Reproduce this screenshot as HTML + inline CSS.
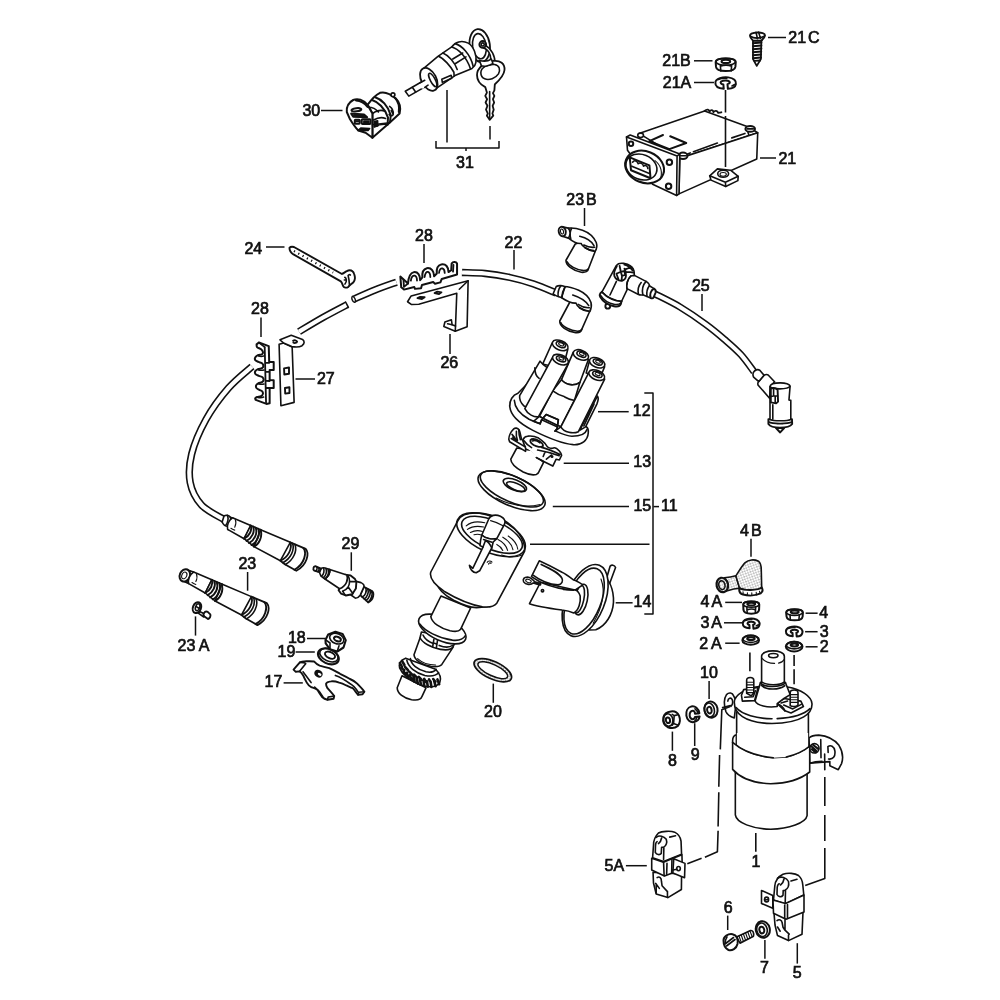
<!DOCTYPE html>
<html><head><meta charset="utf-8">
<style>
html,body{margin:0;padding:0;background:#fff;}
svg{display:block;}
text{font-family:"Liberation Sans",sans-serif;font-size:16px;fill:#111;stroke:#111;stroke-width:.7px;text-anchor:middle;}
.l{stroke:#111;stroke-width:1.6;fill:none;stroke-linecap:round;stroke-linejoin:round;}
.w{stroke:#111;stroke-width:1.6;fill:#fff;stroke-linecap:round;stroke-linejoin:round;}
.t{stroke:#111;stroke-width:1.1;fill:none;stroke-linecap:round;stroke-linejoin:round;}
.k{stroke:#111;stroke-width:1.6;fill:#111;stroke-linejoin:round;}
.d{stroke:#111;stroke-width:1.6;fill:none;}
path,ellipse,circle,rect,line,polygon,polyline{vector-effect:non-scaling-stroke;}
</style></head><body>
<svg width="1000" height="1000" viewBox="0 0 1000 1000">
<rect width="1000" height="1000" fill="#fff"/>
<!-- LABELS -->
<g id="labels" style="filter:grayscale(1)">
<text x="311.3" y="115.5">30</text>
<text x="465" y="167.5">31</text>
<text x="804" y="42.5">21<tspan dx="2">C</tspan></text>
<text x="676.5" y="65.5">21B</text>
<text x="677" y="87.5">21A</text>
<text x="787.3" y="164">21</text>
<text x="253.3" y="254">24</text>
<text x="424" y="240.5">28</text>
<text x="449.3" y="368">26</text>
<text x="260" y="314">28</text>
<text x="325.8" y="384">27</text>
<text x="581.5" y="205">23<tspan dx="2">B</tspan></text>
<text x="513.5" y="247.5">22</text>
<text x="700.8" y="291">25</text>
<text x="641.7" y="415.5">12</text>
<text x="642.2" y="467">13</text>
<text x="642.3" y="511">15</text>
<text x="669.4" y="511">11</text>
<text x="642.5" y="606.7">14</text>
<text x="350.5" y="549">29</text>
<text x="247.3" y="569">23</text>
<text x="193.5" y="651">23<tspan dx="3.5">A</tspan></text>
<text x="296.8" y="643">18</text>
<text x="286.5" y="657">19</text>
<text x="273.4" y="687">17</text>
<text x="493" y="716.7">20</text>
<text x="750.8" y="536.4">4<tspan dx="2">B</tspan></text>
<text x="711.4" y="607.2">4<tspan dx="2">A</tspan></text>
<text x="711.2" y="628">3<tspan dx="2">A</tspan></text>
<text x="710.5" y="648.7">2<tspan dx="3">A</tspan></text>
<text x="823.6" y="618">4</text>
<text x="824.2" y="636.5">3</text>
<text x="824.2" y="651.6">2</text>
<text x="709" y="678">10</text>
<text x="672.4" y="765.7">8</text>
<text x="695.2" y="760.4">9</text>
<text x="756" y="866.7">1</text>
<text x="614.4" y="870.5">5A</text>
<text x="728.2" y="912.7">6</text>
<text x="764.4" y="972.7">7</text>
<text x="797.2" y="978">5</text>
</g>
<!-- LEADERS -->
<g id="leaders" class="l" style="stroke-width:1.5;stroke-linecap:butt">
<path d="M321 110.5H342.5"/>
<path d="M447 90V142.5M436 141V148H499V141M466 148V151"/>
<path d="M490 126V139.5" stroke-dasharray="14 6"/>
<path d="M768 37.5H786"/>
<path d="M694 60.8H712.5"/>
<path d="M694 82.5H714"/>
<path d="M760 158H776"/>
<path d="M266 247H284.5"/>
<path d="M424 244V263"/>
<path d="M450 334V354"/>
<path d="M261 317.5V337"/>
<path d="M295.5 379H315"/>
<path d="M584.5 208V226"/>
<path d="M514 250V269.5"/>
<path d="M702 294V311"/>
<path d="M598 411.7H628.7"/>
<path d="M563.7 463.2H629"/>
<path d="M552.8 506.6H629"/>
<path d="M653.4 506.6H659"/>
<path d="M644.3 393H653V614H644.3"/>
<path d="M530 544.3H649.5"/>
<path d="M615.7 602.8H632.6"/>
<path d="M351.3 552.3V570.8"/>
<path d="M247.6 572V590.7"/>
<path d="M195.5 616.4V635.6"/>
<path d="M307 638.5H325.6"/>
<path d="M295.6 652H314.8"/>
<path d="M283.6 682.9H302.8"/>
<path d="M493.3 683.6V702.8"/>
<path d="M751 538.8V556.8"/>
<path d="M725.2 602.4H742"/>
<path d="M724 622.8H742"/>
<path d="M725.2 643.2H739.6"/>
<path d="M805.6 613.2H817.6"/>
<path d="M805.1 631.7H817.6"/>
<path d="M805.6 646.8H817.6"/>
<path d="M709.1 680.9V699.1"/>
<path d="M672.4 731.6V750.8"/>
<path d="M694.7 723.2V746"/>
<path d="M625.9 865.7H646.8"/>
<path d="M727.7 915.6V930"/>
<path d="M764.9 940V958.8"/>
<path d="M797.3 943.2V963.6"/>
</g>
<!-- 05_cable22.svg -->
<g id="p22cable">
<path d="M252.0,366.5 C248.1,370.1 236.2,379.2 228.5,388.0 C220.8,396.8 212.1,408.5 206.0,419.5 C199.9,430.5 194.3,443.5 191.7,454.0 C189.1,464.5 188.6,474.0 190.2,482.5 C191.8,491.0 195.9,498.8 201.5,505.0 C207.1,511.2 220.2,517.1 224.0,519.5" fill="none" stroke="#111" stroke-width="7.4" stroke-linecap="butt"/>
<path d="M299.0,331.7 C303.0,329.3 315.0,322.0 323.0,317.5 C331.0,313.0 343.0,306.8 347.0,304.7" fill="none" stroke="#111" stroke-width="7.4" stroke-linecap="butt"/>
<path d="M353.0,299.5 C356.7,297.9 367.8,292.9 375.0,290.0 C382.2,287.1 392.9,283.5 396.5,282.2" fill="none" stroke="#111" stroke-width="7.4" stroke-linecap="butt"/>
<path d="M462.0,272.5 C465.8,272.7 477.0,272.7 485.0,273.5 C493.0,274.3 501.9,275.8 510.0,277.5 C518.1,279.2 526.0,281.4 533.7,284.0 C541.4,286.6 552.3,291.5 556.0,293.0" fill="none" stroke="#111" stroke-width="7.4" stroke-linecap="butt"/>
<path d="M252.0,366.5 C248.1,370.1 236.2,379.2 228.5,388.0 C220.8,396.8 212.1,408.5 206.0,419.5 C199.9,430.5 194.3,443.5 191.7,454.0 C189.1,464.5 188.6,474.0 190.2,482.5 C191.8,491.0 195.9,498.8 201.5,505.0 C207.1,511.2 220.2,517.1 224.0,519.5" fill="none" stroke="#fff" stroke-width="4.2" stroke-linecap="butt"/>
<path d="M299.0,331.7 C303.0,329.3 315.0,322.0 323.0,317.5 C331.0,313.0 343.0,306.8 347.0,304.7" fill="none" stroke="#fff" stroke-width="4.2" stroke-linecap="butt"/>
<path d="M353.0,299.5 C356.7,297.9 367.8,292.9 375.0,290.0 C382.2,287.1 392.9,283.5 396.5,282.2" fill="none" stroke="#fff" stroke-width="4.2" stroke-linecap="butt"/>
<path d="M462.0,272.5 C465.8,272.7 477.0,272.7 485.0,273.5 C493.0,274.3 501.9,275.8 510.0,277.5 C518.1,279.2 526.0,281.4 533.7,284.0 C541.4,286.6 552.3,291.5 556.0,293.0" fill="none" stroke="#fff" stroke-width="4.2" stroke-linecap="butt"/>
<path class="l" d="M345.6,302 L348.4,307.4"/>
<ellipse class="w" cx="353.6" cy="299.3" rx="1.5" ry="3" transform="rotate(-23 353.6 299.3)" style="stroke-width:1.4"/>
</g>

<!-- 06_cable25.svg -->
<g id="p25cable">
<path d="M652.5,292.5 C652.8,292.7 649.9,291.3 654.5,293.7 C659.1,296.1 671.5,301.9 680.0,307.0 C688.5,312.1 698.4,318.9 705.8,324.4 C713.2,329.8 718.6,334.4 724.5,339.5 C730.4,344.6 736.0,349.3 740.9,354.7 C745.8,360.1 751.8,368.9 754.0,371.7" fill="none" stroke="#111" stroke-width="7.2" stroke-linecap="butt"/>
<path d="M652.5,292.5 C652.8,292.7 649.9,291.3 654.5,293.7 C659.1,296.1 671.5,301.9 680.0,307.0 C688.5,312.1 698.4,318.9 705.8,324.4 C713.2,329.8 718.6,334.4 724.5,339.5 C730.4,344.6 736.0,349.3 740.9,354.7 C745.8,360.1 751.8,368.9 754.0,371.7" fill="none" stroke="#fff" stroke-width="4" stroke-linecap="butt"/>
</g>

<!-- 10_shaft.svg -->
<g id="pshaft" transform="translate(390,590) scale(0.12)">
<!-- bottom stub -->
<path class="w" d="M100,715 L60,815 C60,860 110,900 180,914 C230,922 258,910 265,890 L300,815 Z"/>
<!-- gear -->
<path class="w" d="M130,568 C90,580 70,620 80,650 C100,700 160,750 250,790 C320,815 390,815 415,770 C435,720 400,680 380,660 Z"/>
<g class="l" style="stroke-width:2.6">
<path d="M82,610 L100,640 M92,650 L118,668 M112,680 L132,700 M140,690 L150,730 M165,710 L180,748 M195,722 L205,765 M222,735 L232,778 M250,745 L258,790 M280,755 L285,798 M308,760 L315,805 M338,762 L345,808 M368,758 L380,802 M395,745 L410,785 M100,590 L120,625 M125,640 L150,668 M160,680 L185,705 M200,705 L225,730 M240,725 L262,748 M285,740 L300,765 M325,745 L340,770 M360,742 L378,765"/>
</g>
<path class="l" d="M170,572 C175,620 230,665 300,682 C340,690 370,680 385,662 M140,585 C150,640 210,690 290,712 C340,722 385,712 405,690"/>
<!-- lower taper shaft -->
<path class="w" d="M250,400 L200,540 C205,585 270,625 340,636 C390,642 420,635 432,620 L525,478 Z"/>
<path class="t" d="M230,572 C270,610 330,625 380,625"/>
<!-- collar under flange -->
<path class="w" d="M262,350 L250,398 C270,440 340,480 420,495 C480,505 515,495 527,470 L560,400 Z"/>
<path class="l" d="M275,375 C290,410 330,435 362,446 M410,462 C450,478 495,480 522,462"/>
<path class="l" d="M366,410 L356,470 M396,420 L386,482 M360,440 L392,452"/>
<!-- flange ring -->
<ellipse class="w" cx="436" cy="325" rx="212" ry="98" transform="rotate(24 436 325)"/>
<path class="l" d="M250,285 C290,340 400,400 520,418 C570,424 610,410 628,380"/>
<!-- upper shaft -->
<path class="w" d="M425,50 L340,222 C350,275 420,320 500,340 C550,350 575,345 587,330 L672,150 Z"/>
</g>

<!-- 11_body.svg -->
<g id="p11" transform="translate(420,500) scale(0.12)">
<!-- shaft below (drawn first) placeholder in separate file -->
<!-- collar under body -->
<path class="w" d="M140,690 C150,740 200,790 280,835 C350,870 420,895 470,897 L560,890 L200,640 Z"/>
<!-- body -->
<path class="w" d="M316,172 L90,600 C78,640 100,690 200,760 C300,820 420,872 520,890 C580,897 620,885 640,860 L872,425 C880,330 800,230 700,170 C560,95 360,80 316,172 Z"/>
<ellipse class="l" cx="592" cy="290" rx="306" ry="146" transform="rotate(24 592 290)"/>
<ellipse class="l" cx="600" cy="290" rx="272" ry="118" transform="rotate(24 600 290)"/>
<path class="t" d="M680,458 C740,480 800,480 850,458"/>
<!-- inner arcs -->
<path class="t" d="M385,215 C420,185 480,175 540,190 M395,245 C430,220 480,215 530,225 M420,270 C450,255 490,252 520,262 M450,290 C470,283 495,285 510,292"/>
<path class="t" d="M650,330 C690,350 720,385 730,420 M690,310 C735,335 765,375 775,415 M735,300 C780,330 810,370 815,410 M640,370 C660,380 680,400 690,420"/>
<!-- rotor shaft -->
<path class="w" d="M572,160 C585,125 630,118 670,135 C700,150 715,175 705,200 L640,322 C600,330 540,320 515,292 Z"/>
<path class="t" d="M588,172 C620,180 660,195 692,215"/>
<!-- clip -->
<path class="w" d="M515,292 L505,335 L500,380 L525,392 L440,570 L412,545 C415,575 440,605 468,606 L497,590 L598,400 L610,350 L640,322 C600,330 540,320 515,292 Z"/>
<path class="l" d="M530,330 L600,352 M525,392 L545,340 M598,400 C585,370 560,345 545,340"/>
<path class="t" d="M560,520 C565,505 590,505 600,518 M572,535 C570,525 585,520 592,528"/>
</g>

<!-- 12_cap.svg -->
<g id="p12" transform="translate(490,330) scale(0.13)">
<!-- flange -->
<path class="w" d="M215,487 C175,500 148,540 152,590 C160,665 230,722 330,772 C420,817 540,872 640,882 C705,886 752,850 756,790 C758,770 752,752 742,745 L700,600 L300,400 Z"/>
<path class="l" d="M187,540 C190,605 240,652 300,686 L335,702 M505,778 C560,803 600,817 630,817 C690,817 735,800 746,765"/>
<!-- right clip -->
<path class="w" d="M826,508 C838,520 832,545 822,570 L735,745 L690,772 Z"/>
<path class="l" d="M800,570 L722,738"/>
<!-- tower 1 back-left -->
<path class="w" d="M478,100 L405,262 L560,300 L598,150 Z"/>
<ellipse class="w" cx="540" cy="118" rx="64" ry="36" transform="rotate(22 540 118)"/>
<ellipse class="l" cx="545" cy="112" rx="38" ry="20" transform="rotate(22 545 112)"/>
<ellipse class="t" cx="547" cy="110" rx="20" ry="10" transform="rotate(22 547 110)"/>
<!-- cone body left -->
<path class="w" d="M385,240 L405,262 L440,290 L300,600 L262,585 C235,560 225,530 228,505 Z"/>
<path class="l" d="M345,290 C345,330 360,360 378,372"/>
<!-- tower 4 back-right -->
<path class="w" d="M765,238 L740,330 L850,360 L882,282 Z"/>
<ellipse class="w" cx="824" cy="252" rx="62" ry="36" transform="rotate(22 824 252)"/>
<ellipse class="l" cx="829" cy="246" rx="37" ry="20" transform="rotate(22 829 246)"/>
<ellipse class="t" cx="831" cy="244" rx="19" ry="10" transform="rotate(22 831 244)"/>
<!-- tower 3 centre -->
<path class="w" d="M640,172 L550,382 C580,425 650,435 692,402 L757,228 Z"/>
<ellipse class="w" cx="699" cy="192" rx="62" ry="36" transform="rotate(22 699 192)"/>
<ellipse class="l" cx="704" cy="186" rx="37" ry="20" transform="rotate(22 704 186)"/>
<ellipse class="t" cx="706" cy="184" rx="19" ry="10" transform="rotate(22 706 184)"/>
<!-- central body -->
<path class="w" d="M550,382 L480,470 L380,665 L545,745 L650,540 L692,402 C650,435 580,425 550,382 Z"/>
<path class="l" d="M486,470 C520,495 545,505 570,512 M575,515 C600,530 625,537 650,542"/>
<!-- notch -->
<path class="w" d="M335,702 L385,722 L397,690 L432,650 L526,690 L516,760 L500,778 L545,745 L380,665 Z"/>
<path class="l" d="M335,702 L385,722 L397,690 L432,650 L526,690 L516,760 L500,778 M397,690 L516,745"/>
<!-- tower 2 front-left -->
<path class="w" d="M480,212 L268,605 C290,650 340,672 372,668 L602,258 Z"/>
<ellipse class="w" cx="542" cy="228" rx="64" ry="36" transform="rotate(22 542 228)"/>
<ellipse class="l" cx="547" cy="222" rx="38" ry="20" transform="rotate(22 547 222)"/>
<ellipse class="t" cx="549" cy="220" rx="20" ry="10" transform="rotate(22 549 220)"/>
<!-- tower 5 front-right -->
<path class="w" d="M760,328 L545,745 C570,790 640,800 680,782 L882,378 Z"/>
<ellipse class="w" cx="821" cy="347" rx="64" ry="36" transform="rotate(22 821 347)"/>
<ellipse class="l" cx="826" cy="341" rx="38" ry="20" transform="rotate(22 826 341)"/>
<ellipse class="t" cx="828" cy="339" rx="20" ry="10" transform="rotate(22 828 339)"/>
</g>

<!-- 13_rotor.svg -->
<g id="p13" transform="translate(500,420) scale(0.08)">
<!-- cylinder -->
<path class="w" d="M210,350 L135,490 C135,540 200,600 290,650 C350,680 420,690 455,680 C475,670 485,655 490,640 L545,530 L400,380 Z"/>
<!-- back tab -->
<path class="w" d="M110,240 C110,200 140,140 172,110 C190,95 220,98 240,125 C255,160 258,200 270,240 L320,300 L320,392 L120,272 Z"/>
<path class="l" d="M150,180 C170,200 190,230 200,255 M205,140 C200,180 205,220 218,255 M235,125 C235,170 242,210 255,245 M140,232 L330,345 M160,215 L175,240 M185,225 L200,250"/>
<!-- main plate -->
<path fill="#fff" stroke="none" d="M290,242 C300,220 320,205 345,202 C390,195 440,205 482,226 C520,250 545,275 562,292 C580,320 590,335 602,342 C625,355 650,358 668,350 C690,340 720,365 742,388 C760,410 770,425 770,442 L742,500 L702,490 L660,576 L540,516 L455,470 L400,400 L320,340 Z"/>
<path class="l" d="M318,338 C300,310 285,270 290,242 C300,220 320,205 345,202 C390,195 440,205 482,226 C520,250 545,275 562,292 C580,320 590,335 602,342 C625,355 650,358 668,350 C690,340 720,365 742,388 C760,410 770,425 770,442 L742,500 L702,490 L660,576 L540,516 L455,470"/>
<path class="l" style="stroke-width:1.8" d="M380,252 C395,235 440,235 490,262 C525,285 545,310 535,328 C515,345 460,335 420,312 C390,292 375,270 380,252 Z"/>
<path class="l" d="M405,262 C430,250 470,262 500,285 M470,376 C520,385 600,400 740,446 M520,342 C570,355 650,385 752,430 M562,402 L540,456 M642,440 L580,490 M300,260 C320,290 350,320 395,345 M455,470 L545,518"/>
<circle class="k" cx="650" cy="455" r="9"/>
</g>

<!-- 14_vac.svg -->
<g id="p14" transform="translate(510,540) scale(0.13)">
<!-- pipe -->
<path class="w" d="M738,312 L770,202 C778,188 805,192 812,212 L765,338 Z"/>
<!-- back dome -->
<path class="w" d="M700,250 C760,300 800,380 796,480 C790,570 740,660 660,690 L610,692 Z"/>
<!-- disc -->
<ellipse class="w" cx="578" cy="465" rx="292" ry="150" transform="rotate(-68 578 465)"/>
<ellipse class="l" cx="570" cy="470" rx="268" ry="128" transform="rotate(-68 570 470)"/>
<path class="t" d="M700,300 C730,380 720,500 640,640"/>
<!-- hub -->
<ellipse class="w" cx="545" cy="458" rx="50" ry="120" transform="rotate(12 545 458)"/>
<ellipse class="l" cx="530" cy="455" rx="38" ry="108" transform="rotate(12 530 455)"/>
<!-- upper arm -->
<path class="w" d="M225,160 L165,282 L235,325 L500,385 L560,345 C530,325 500,310 490,308 C460,285 420,255 400,248 C340,215 280,185 225,160 Z"/>
<path class="l" d="M180,272 C230,310 300,340 370,345 C400,340 410,315 400,295 C380,255 320,225 240,188"/>
<!-- lower arm -->
<path class="w" d="M235,325 L150,490 C200,510 300,525 400,538 C440,542 470,552 490,562 C530,540 545,480 540,430 C530,400 515,388 500,385 C440,385 330,365 235,325 Z"/>
<path class="l" d="M410,380 L490,386"/>
<circle class="l" cx="250" cy="390" r="9"/>
<!-- hook -->
<path class="w" d="M235,345 C210,340 195,335 180,330 C160,348 120,345 105,322 C95,300 110,285 135,285 C160,288 180,310 190,322 L235,335 Z"/>
<ellipse class="t" cx="142" cy="315" rx="22" ry="12" transform="rotate(20 142 315)"/>
</g>

<!-- 15_disc.svg -->
<g id="p15" transform="translate(470,420) scale(0.13)">
<ellipse class="w" cx="320" cy="545" rx="278" ry="112" transform="rotate(24 320 545)"/>
<ellipse class="l" cx="322" cy="530" rx="262" ry="98" transform="rotate(24 322 530)"/>
<path class="t" d="M200,600 C300,650 420,680 540,650"/>
<ellipse class="l" cx="345" cy="500" rx="95" ry="40" transform="rotate(22 345 500)"/>
<ellipse class="l" cx="352" cy="512" rx="75" ry="26" transform="rotate(22 352 512)"/>
</g>

<!-- 17_clamp.svg -->
<g id="p17" transform="translate(285,625) scale(0.09)">
<path class="w" style="stroke-width:1.9" d="M95,495 L165,415 C190,402 280,400 322,405 C345,430 365,445 385,452 C420,462 460,470 492,480 C540,500 580,525 612,542 C650,560 690,580 722,600 C760,615 790,640 802,652 C830,680 860,710 882,742 L862,770 L812,776 C790,750 770,720 752,702 C725,690 700,680 682,672 C650,655 625,645 602,640 C570,628 535,622 512,626 C480,630 460,640 456,652 C455,670 465,690 472,702 C500,735 530,765 547,790 L540,820 L472,830 C445,825 425,812 412,800 C390,770 375,745 362,722 C335,705 310,698 292,690 C265,675 250,655 242,640 C225,610 210,580 202,560 C190,540 175,522 162,515 L120,520 Z"/>
<path class="l" d="M165,415 C200,415 225,420 230,430 L162,515 M200,520 C230,560 260,600 290,640 M330,690 C370,720 400,760 420,795 M560,560 C620,580 680,620 720,650 C760,670 790,710 812,745 M472,830 L480,800 L547,790 M812,776 L820,748 L882,742"/>
<ellipse class="k" cx="372" cy="540" rx="40" ry="32" transform="rotate(30 372 540)"/>
<ellipse cx="385" cy="548" rx="22" ry="14" fill="#fff" transform="rotate(30 385 548)"/>
</g>
<g id="p19" transform="translate(285,625) scale(0.09)">
<ellipse class="w" cx="482" cy="348" rx="122" ry="80" transform="rotate(25 482 348)" style="stroke-width:2.1"/>
<ellipse class="l" cx="488" cy="335" rx="108" ry="66" transform="rotate(25 488 335)"/>
<ellipse class="l" cx="500" cy="335" rx="60" ry="34" transform="rotate(25 500 335)" style="stroke-width:1.9"/>
</g>
<g id="p18" transform="translate(285,625) scale(0.09)">
<path class="w" style="stroke-width:2.1" d="M450,165 L480,105 L560,75 L640,100 L675,170 L650,250 L580,295 L500,270 L452,205 Z"/>
<ellipse class="l" cx="575" cy="152" rx="82" ry="55" transform="rotate(22 575 152)"/>
<ellipse class="l" cx="582" cy="156" rx="40" ry="24" transform="rotate(22 582 156)" style="stroke-width:2"/>
<path class="l" d="M500,200 L500,270 M600,230 L580,295 M500,200 L452,165"/>
</g>

<!-- 20_ring.svg -->
<defs>
<pattern id="stip2" width="3" height="3" patternUnits="userSpaceOnUse" patternTransform="rotate(20)">
<rect width="3" height="3" fill="#fff"/><circle cx="0.8" cy="0.8" r="0.55" fill="#333"/><circle cx="2.3" cy="2.2" r="0.5" fill="#333"/>
</pattern>
</defs>
<g id="p20">
<ellipse cx="492.8" cy="670.2" rx="20.3" ry="8.7" transform="rotate(25 492.8 670.2)" fill="url(#stip2)" stroke="#111" stroke-width="1.7"/>
<ellipse cx="492.8" cy="670.2" rx="16.2" ry="5.6" transform="rotate(25 492.8 670.2)" fill="#fff" stroke="#111" stroke-width="1.5"/>
</g>

<!-- 21_box.svg -->
<g id="p21" transform="translate(615,95) scale(0.16)">
<!-- box body: top -->
<path class="w" d="M150,240 L560,100 L830,198 L892,236 L405,396 Z"/>
<!-- right side -->
<path class="w" d="M892,236 L886,400 L400,618 L405,396 Z"/>
<path class="l" d="M490,355 L640,300 M730,268 L812,240 M445,372 L470,362"/>
<!-- mount tab -->
<path class="w" d="M592,505 L640,462 L722,470 L770,508 L768,535 L692,572 L600,532 Z"/>
<path class="l" d="M592,505 L690,545 L770,508 M690,545 L692,572"/>
<ellipse class="l" cx="676" cy="492" rx="34" ry="22"/>
<ellipse class="t" cx="676" cy="496" rx="20" ry="12"/>
<!-- label rect -->
<path class="l" d="M215,288 L340,338 L445,300 M345,258 L445,300 M215,288 L300,250" style="stroke-width:2"/>
<!-- back squiggle + screws -->
<path class="l" d="M560,100 C575,85 590,90 590,105 C600,88 615,92 615,108 C625,95 640,98 645,112 L665,108" style="stroke-width:1.8"/>
<ellipse class="w" cx="845" cy="212" rx="30" ry="18" style="stroke-width:2"/>
<path class="l" d="M825,212 L865,212 M830,230 L835,245"/>
<ellipse class="w" cx="425" cy="380" rx="28" ry="20" style="stroke-width:2"/>
<path class="l" d="M405,380 L445,380"/>
<ellipse class="w" cx="160" cy="252" rx="18" ry="14"/>
<!-- front plate -->
<path class="w" d="M72,262 L95,250 L405,368 L400,618 L385,628 L235,558 L78,345 Z"/>
<path class="l" d="M72,262 L388,382 L385,628 M388,382 L405,368"/>
<circle class="l" cx="100" cy="305" r="14" style="stroke-width:2"/>
<circle class="l" cx="340" cy="420" r="17" style="stroke-width:2"/>
<circle class="l" cx="335" cy="570" r="17" style="stroke-width:2"/>
<!-- connector -->
<ellipse class="w" cx="185" cy="450" rx="125" ry="98" transform="rotate(22 185 450)" style="stroke-width:2"/>
<ellipse class="l" cx="165" cy="450" rx="100" ry="78" transform="rotate(22 165 450)"/>
<path class="l" d="M92,390 L215,440 L222,520 L100,470 Z" style="stroke-width:2"/>
<path class="l" d="M110,420 C120,405 140,410 145,430 C155,420 175,428 178,445 C190,435 205,445 205,460 M105,445 L215,490"/>
<path class="t" d="M250,410 C290,440 300,490 280,530"/>
</g>
<g class="l" style="stroke-linecap:butt"><path d="M725.5,90 V112.5 M725.5,116 V167"/></g>

<!-- 22_hw21.svg -->
<g id="p21abc" transform="translate(705,20) scale(0.075)">
<!-- screw 21C -->
<path class="w" style="stroke-width:1.8" d="M640,270 L640,520 L690,612 L745,520 L752,270 Z"/>
<path class="l" style="stroke-width:1.9" d="M640,310 L752,300 M640,350 L752,340 M640,390 L752,380 M640,430 L750,420 M640,470 L748,460 M640,510 L746,500 M660,545 L735,540"/>
<path class="w" style="stroke-width:2" d="M600,210 C600,160 800,150 800,205 C795,240 770,260 752,275 L640,275 C620,255 602,235 600,210 Z"/>
<path class="l" d="M680,165 L700,250 M715,162 L740,245 M610,220 C650,250 740,250 790,215"/>
<!-- nut 21B -->
<path class="w" style="stroke-width:2" d="M142,560 C142,498 410,498 410,560 L405,625 C395,700 155,700 147,625 Z"/>
<ellipse class="l" cx="276" cy="556" rx="130" ry="46"/>
<ellipse class="l" cx="278" cy="552" rx="58" ry="22" style="stroke-width:2"/>
<path class="l" d="M205,600 L210,680 M355,600 L350,680 M205,615 C240,605 320,605 355,615"/>
<!-- lock washer 21A -->
<path class="w" style="stroke-width:2" d="M138,835 C140,775 240,758 310,765 C385,775 420,810 412,855 C405,895 360,915 305,918 L300,855 C325,852 340,838 325,820 C305,802 240,802 215,820 C198,838 215,855 245,860 L250,918 C180,912 135,885 138,835 Z"/>
<path class="l" d="M175,795 C210,780 250,775 290,778 M360,880 L395,860"/>
</g>

<!-- 23_plugconn.svg -->
<g id="p23cable" transform="translate(208.9,505.7) scale(0.11)">
<g transform="translate(55.5,-6.4)">
<path class="w" d="M82,100 C100,88 125,92 140,112 L160,118 L120,225 L120,195 C100,195 75,180 65,155 Z"/>
<path class="l" d="M140,112 C150,135 140,170 120,195 M112,95 C125,120 118,160 98,185"/>
</g>
<!-- neck -->
<path class="w" d="M215,110 L380,180 L320,300 L170,215 C160,180 180,130 215,110 Z"/>
<path class="t" d="M240,125 C250,150 245,175 235,195 M200,205 C215,215 225,220 235,222"/>
<!-- ribbed -->
<path class="w" d="M380,180 L470,218 L410,372 L320,300 Z"/>
<path class="l" style="stroke-width:1.9" d="M380,180 C395,220 370,275 320,300 M402,190 C420,235 392,295 342,320 M425,200 C445,250 415,315 365,340 M448,209 C470,262 438,335 388,358 M470,218 C492,275 460,350 410,372"/>
<!-- main body -->
<path class="w" d="M470,218 L740,333 L650,500 L410,372 C460,350 492,275 470,218 Z"/>
<!-- sleeve -->
<path class="w" style="stroke-width:1.8" d="M740,333 L880,392 C915,430 895,540 795,592 L690,532 L650,500 C720,470 760,390 740,333 Z"/>
<path class="l" d="M760,342 C782,400 745,480 672,518 M782,352 C805,410 768,495 695,535"/>
<path class="l" style="stroke-width:1.9" d="M858,384 C892,425 872,530 778,582"/>
</g>
<g id="p23" transform="translate(170,560) scale(0.11)">
<!-- knob -->
<path class="w" d="M150,88 L215,110 C185,135 165,175 170,215 L128,195 Z"/>
<path class="l" d="M185,100 C165,125 152,165 155,205"/>
<ellipse class="w" cx="135" cy="140" rx="46" ry="58" transform="rotate(23 135 140)" style="stroke-width:2"/>
<ellipse class="t" cx="130" cy="140" rx="22" ry="32" transform="rotate(23 130 140)"/>
<!-- neck -->
<path class="w" d="M215,110 L380,180 L320,300 L170,215 C160,180 180,130 215,110 Z"/>
<path class="t" d="M240,125 C250,150 245,175 235,195 M200,205 C215,215 225,220 235,222"/>
<!-- ribbed -->
<path class="w" d="M380,180 L470,218 L410,372 L320,300 Z"/>
<path class="l" style="stroke-width:1.9" d="M380,180 C395,220 370,275 320,300 M402,190 C420,235 392,295 342,320 M425,200 C445,250 415,315 365,340 M448,209 C470,262 438,335 388,358 M470,218 C492,275 460,350 410,372"/>
<!-- main body -->
<path class="w" d="M470,218 L740,333 L650,500 L410,372 C460,350 492,275 470,218 Z"/>
<!-- sleeve -->
<path class="w" style="stroke-width:1.8" d="M740,333 L880,392 C915,430 895,540 795,592 L690,532 L650,500 C720,470 760,390 740,333 Z"/>
<path class="l" d="M760,342 C782,400 745,480 672,518 M782,352 C805,410 768,495 695,535"/>
<path class="l" style="stroke-width:1.9" d="M858,384 C892,425 872,530 778,582"/>
</g>

<!-- 23a.svg -->
<g id="p23a" transform="translate(170,565) scale(0.065)">
<path class="w" d="M455,715 L535,755 L520,800 L440,745 Z"/>
<path class="w" style="stroke-width:1.9" d="M520,745 C535,720 560,712 580,722 L620,760 C630,790 610,825 585,830 L530,792 C515,780 512,760 520,745 Z"/>
<ellipse class="w" cx="415" cy="655" rx="62" ry="86" transform="rotate(22 415 655)" style="stroke-width:2"/>
<ellipse class="l" cx="425" cy="650" rx="32" ry="55" transform="rotate(22 425 650)"/>
<path class="l" d="M405,640 L445,665"/>
</g>

<!-- 23b_elbow.svg -->
<g id="p23b" transform="translate(540,215) scale(0.125)">
<!-- vertical body -->
<path class="w" d="M282,232 L208,362 C205,400 260,445 330,458 C365,462 385,450 387,432 L442,290 L380,200 Z"/>
<path class="l" d="M215,372 C230,405 290,440 350,445 C370,445 380,440 385,432" />
<!-- arm -->
<path class="w" d="M228,105 C260,100 300,108 340,122 C390,140 430,175 450,220 C460,250 452,275 440,292 C420,290 390,280 360,262 C340,245 330,235 330,228 C300,232 265,215 228,185 Z"/>
<path class="l" d="M252,108 C240,130 238,160 246,190 M318,170 C360,180 410,205 432,245 M350,240 C380,255 410,262 438,258 M362,262 C385,278 410,285 430,285"/>
<!-- end -->
<path class="w" d="M180,95 L225,105 C245,125 245,160 228,185 L185,172 Z"/>
<ellipse class="w" cx="178" cy="132" rx="28" ry="38" transform="rotate(-15 178 132)" style="stroke-width:1.9"/>
<ellipse class="t" cx="176" cy="132" rx="12" ry="20" transform="rotate(-15 176 132)"/>
</g>
<g id="p22elbow" transform="translate(540,215) scale(0.125)">
<!-- vertical body -->
<path class="w" d="M238,698 L158,848 C155,890 215,930 285,942 C315,945 330,935 334,915 L398,770 L340,690 Z"/>
<path class="l" d="M166,860 C180,895 245,925 300,930 C320,930 330,925 334,915"/>
<!-- arm -->
<path class="w" d="M195,572 C230,572 270,585 310,602 C360,625 395,660 408,700 C415,730 408,755 398,772 C375,770 345,760 318,742 C300,728 290,715 288,705 C255,708 215,690 170,660 Z"/>
<path class="l" d="M262,640 C310,655 365,685 390,725 M305,715 C335,735 365,745 395,742 M315,742 C340,760 365,768 388,768"/>
<!-- collars -->
<path class="w" d="M130,572 C150,560 185,565 200,575 L172,660 C150,655 120,645 105,630 Z"/>
<path class="l" d="M165,568 C150,590 142,620 145,650 M200,575 C185,600 176,630 176,658"/>
</g>

<!-- 24_tie.svg -->
<g id="p24" transform="translate(280,235) scale(0.09)">
<path class="w" style="stroke-width:1.9" d="M105,142 C115,130 135,128 155,133 L688,433 C705,425 725,410 742,402 C755,395 765,392 773,392 C790,392 798,396 805,402 C815,410 820,420 824,433 C830,450 834,470 832,484 C830,500 826,510 820,519 C812,532 800,540 789,546 C778,555 768,568 758,577 C748,584 738,586 727,585 C716,583 708,578 703,569 C697,558 692,546 688,534 L676,515 L150,216 C125,200 105,170 105,142 Z"/>
<path class="l" d="M757,450 C765,480 770,520 772,562 M757,450 C765,440 775,438 782,445 M720,470 C740,480 745,520 722,545 M715,500 L738,498"/>
<path class="l" style="stroke-width:2.2;stroke-dasharray:1.2 3.7;stroke-linecap:butt" d="M155,178 L590,418"/>
</g>

<!-- 25_conn.svg -->
<g id="p25a" transform="translate(590,255) scale(0.08)">
<!-- tip -->
<circle class="w" cx="222" cy="640" r="30" style="stroke-width:1.9"/>
<!-- ring -->
<path class="w" style="stroke-width:1.9" d="M150,460 C125,480 115,505 128,525 C160,580 230,625 300,640 C340,648 375,640 385,615 L395,575 Z"/>
<path class="l" d="M132,505 C165,560 240,605 310,618 C345,622 372,615 385,600"/>
<!-- main body -->
<path class="w" d="M330,130 C345,110 380,100 420,105 C480,115 535,150 550,200 L555,255 L470,420 L395,578 C330,585 220,545 150,462 Z"/>
<path class="l" d="M330,330 L250,500 M150,462 C200,520 300,570 395,578"/>
<!-- cap facets -->
<path class="l" style="stroke-width:1.8" d="M335,140 C310,180 295,230 305,265 C320,300 355,325 400,322 C430,315 448,290 450,260 C452,220 445,190 430,170 M370,135 L385,210 L330,235 M385,210 L430,200 L440,250 L400,262 L385,210 M400,262 L395,315 M330,235 L355,300 M430,120 C470,130 510,160 530,190 M440,180 L520,150 M450,215 C490,215 530,210 548,220"/>
<!-- arm -->
<path class="w" d="M555,255 L700,330 C730,350 745,370 742,385 L800,420 L765,540 L660,497 C640,505 620,500 600,490 L462,420 C450,370 470,300 510,262 Z"/>
<path class="l" d="M510,262 C470,300 450,370 462,420 M640,345 C610,380 595,440 605,490 M700,330 C665,370 648,440 660,497 M742,385 C715,420 705,470 712,518"/>
<path class="w" style="stroke-width:1.9" d="M800,420 C820,430 825,450 820,470 L795,530 C785,545 770,545 760,538 C740,500 760,440 800,420 Z"/>
</g>

<!-- 25_conn_b.svg -->
<g id="p25b" transform="translate(740,360) scale(0.08)">
<!-- boot -->
<path class="w" d="M300,190 C320,180 345,182 355,190 L432,272 L380,330 L372,482 L225,312 C220,290 225,275 235,270 Z"/>
<!-- collar -->
<path class="w" d="M170,152 C185,125 220,110 250,130 L300,190 L235,270 L170,215 C160,195 160,170 170,152 Z"/>
<!-- tip -->
<path class="w" style="stroke-width:1.9" d="M450,850 L552,850 L502,906 Z"/>
<!-- ring -->
<path class="w" style="stroke-width:1.9" d="M355,740 L650,740 L652,800 C630,830 580,845 500,845 C420,845 375,830 355,800 Z"/>
<path class="l" d="M360,775 C400,800 600,800 648,775 M460,795 L540,795"/>
<!-- body -->
<path class="w" d="M375,335 C375,270 628,270 626,330 L612,500 L635,505 L635,742 C600,765 410,765 375,742 Z"/>
<path class="l" d="M378,335 C400,370 600,370 624,330 M410,560 L410,740"/>
<!-- clip -->
<path class="w" style="stroke-width:1.9" d="M385,362 C400,345 440,345 470,372 L476,520 L452,542 L385,530 Z"/>
<path class="l" d="M420,360 L420,450 L385,455 M420,450 L470,450 M440,455 L440,530"/>
</g>

<!-- 26_bracket.svg -->
<g id="p26" transform="translate(390,250) scale(0.09)">
<path class="w" d="M195,575 L235,510 L868,342 L857,852 L725,902 L598,850 L610,800 L682,775 L690,830 L728,845 L742,480 L320,602 L240,606 Z"/>
<path class="l" d="M868,342 L770,436 M728,845 L725,902 M640,820 L690,830"/>
<path class="l" d="M305,535 L335,520 L385,525 L355,545 Z M495,478 L525,462 L572,470 L545,490 Z" style="stroke-width:1.8"/>
</g>
<g id="p28t" transform="translate(390,250) scale(0.09)">
<path class="w" style="stroke-width:2" d="M115,295 L125,415 L155,440 L270,412 L278,432 L345,425 L355,388 L480,356 L500,376 L560,360 L575,322 L745,272 L745,150 C735,130 700,125 685,150 L680,225 L650,245 C650,190 620,150 570,160 C530,170 515,210 520,262 L490,292 C490,235 460,195 410,202 C370,212 355,255 360,305 L335,335 C335,280 310,240 265,246 C225,255 205,300 200,372 Z"/>
<path class="l" style="stroke-width:1.8" d="M150,330 L155,410 L200,372 M232,340 C235,300 255,280 275,285 C295,292 300,320 300,340 M385,300 C388,260 405,240 422,244 C442,250 448,275 448,300 M545,255 C548,218 565,200 582,204 C602,210 608,232 608,255 M700,240 L705,165"/>
</g>

<!-- 27_bracket.svg -->
<g id="p27" transform="translate(235,325) scale(0.09)">
<path class="w" d="M490,215 L510,897 L657,860 L635,245 L540,200 Z"/>
<path class="w" d="M500,165 L625,115 L750,160 C775,180 775,205 745,230 C720,245 680,248 630,240 L540,200 Z"/>
<path class="l" d="M645,175 C660,165 685,170 690,185 C685,200 660,205 648,195" style="stroke-width:1.8"/>
<path class="l" d="M545,482 L600,472 L600,542 L548,550 Z M555,700 L605,692 L605,755 L558,762 Z" style="stroke-width:1.9"/>
</g>
<g id="p28l" transform="translate(235,325) scale(0.09)">
<path class="w" style="stroke-width:2" d="M240,215 L265,195 L375,235 L380,410 L430,410 L430,500 L385,500 L385,612 L430,615 L430,700 L385,700 L385,870 L350,877 L230,832 C229,829 222,820 225,815 C228,810 234,804 245,800 C256,796 279,796 290,790 C301,784 308,774 310,765 C312,756 307,742 300,735 C293,728 280,726 270,720 C260,714 244,708 238,700 C232,692 232,679 235,670 C238,661 247,654 258,648 C269,642 290,641 300,635 C310,629 317,619 318,610 C319,601 314,588 305,580 C296,572 278,571 265,565 C252,559 235,553 228,545 C221,537 220,524 225,515 C230,506 242,496 255,490 C268,484 290,486 300,480 C310,474 315,464 315,455 C315,446 309,432 300,425 C291,418 272,416 260,410 C248,404 231,398 225,390 C219,382 220,369 225,360 C230,351 242,341 255,335 C268,329 291,331 300,325 C309,319 312,309 310,300 C308,291 301,279 290,270 C279,261 253,254 245,245 C237,236 241,220 240,215 Z"/>
<path class="l" d="M330,245 L345,862 M345,420 L380,420 M345,520 L375,520 M350,620 L385,622 M350,700 L385,700" style="stroke-width:1.8"/>
<path class="l" d="M265,195 L330,245 M262,345 C285,350 300,350 318,345 M262,500 C285,505 300,505 322,500 M265,655 C285,660 305,660 322,655 M255,805 C280,810 300,808 318,800"/>
</g>

<!-- 29_plug.svg -->
<g id="p29" transform="translate(305,555) scale(0.08)">
<!-- thread -->
<path class="w" style="stroke-width:1.9" d="M735,398 L832,448 C870,470 860,560 790,592 L690,502 Z"/>
<path class="l" d="M760,412 C775,450 755,510 715,525 M785,425 C800,465 780,525 740,548 M810,438 C825,478 805,540 765,568 M832,448 C850,490 830,555 790,592"/>
<!-- body after hex -->
<path class="w" d="M640,330 L700,345 C730,360 742,385 735,400 L690,502 C670,530 650,540 630,540 L575,500 Z"/>
<!-- hex -->
<path class="w" style="stroke-width:1.9" d="M500,245 L570,255 L625,300 L642,340 L636,420 L590,490 L510,506 L450,482 L420,440 L430,420 Z"/>
<path class="l" d="M540,260 C560,300 560,360 540,400 C520,430 495,445 470,452 M556,330 L640,335 M540,400 L598,482 M470,452 L505,505"/>
<!-- insulator body -->
<path class="w" d="M310,180 L522,250 C545,300 520,390 432,422 L250,300 C290,270 315,220 310,180 Z"/>
<!-- insulator top -->
<path class="w" d="M200,170 C215,158 235,158 250,162 L310,180 C315,220 290,270 250,300 L200,265 L180,215 Z"/>
<path class="l" d="M232,165 C245,195 235,240 210,262 M262,170 C275,205 262,252 232,282 M290,178 C300,210 290,255 262,290"/>
<!-- terminal -->
<path class="w" style="stroke-width:1.9" d="M105,165 C108,148 118,140 128,140 L200,170 L180,215 L115,195 C106,188 103,175 105,165 Z"/>
<path class="l" d="M148,150 C155,165 150,185 138,198 M172,160 C180,175 174,195 162,208"/>
</g>

<!-- 30_lock.svg -->
<g id="p30" transform="translate(340,80) scale(0.08)">
<!-- body -->
<path class="w" style="stroke-width:2" d="M345,310 C380,260 440,190 500,160 C560,145 640,180 700,235 C740,275 770,320 745,420 L620,535 L405,722 L405,420 Z"/>
<circle class="w" cx="662" cy="185" r="24"/>
<path class="l" style="stroke-width:2" d="M400,250 C470,270 560,350 600,470 L595,560 M440,215 C520,240 600,320 635,440 L625,525 M690,225 C730,270 745,330 735,400"/>
<path class="l" d="M405,420 C450,380 520,370 560,390 M420,500 C470,470 530,465 570,480 M430,585 C480,560 540,550 580,555 M350,340 C400,340 450,360 480,400 M620,330 C650,350 670,390 665,430 C655,455 630,450 615,430 M640,380 L660,420"/>
<path class="k" d="M428,520 L470,510 L472,575 L430,585 Z"/>
<!-- front face -->
<path class="w" style="stroke-width:2" d="M85,400 C80,340 110,280 165,250 C220,225 290,245 345,312 L405,420 L405,722 L320,660 L230,632 C190,590 150,530 120,480 Z"/>
<path class="l" style="stroke-width:2.2" d="M200,255 C260,260 310,290 345,335"/>
<ellipse class="l" cx="205" cy="372" rx="62" ry="20" transform="rotate(-8 205 372)" style="stroke-width:2"/>
<path class="l" style="stroke-width:2" d="M140,420 L300,430 L340,465 L165,460 Z M180,440 L300,448"/>
<rect class="l" x="272" y="492" width="110" height="58" rx="10" style="stroke-width:2"/>
<rect class="l" x="185" y="498" width="62" height="48" rx="8" style="stroke-width:2"/>
<path class="l" style="stroke-width:2" d="M300,515 H360 M300,532 H360 M200,515 H235"/>
<path class="k" d="M225,632 L260,600 L370,606 L350,632 Z"/>
<path class="l" d="M405,560 L620,535"/>
</g>

<!-- 31_cyl.svg -->
<g id="p31" transform="translate(400,20) scale(0.11)">
<!-- key ring big -->
<ellipse class="w" cx="725" cy="232" rx="92" ry="150" transform="rotate(-8 725 232)" style="stroke-width:1.8"/>
<ellipse class="l" cx="722" cy="238" rx="62" ry="115" transform="rotate(-8 722 238)"/>
<!-- second ring -->
<path class="w" d="M770,225 C830,260 870,330 862,400 C855,440 835,455 815,450 L800,400 C820,390 830,360 820,320 C810,290 790,265 760,255 Z"/>
<circle class="w" cx="752" cy="222" r="30" style="stroke-width:2"/>
<circle class="l" cx="752" cy="222" r="14"/>
<!-- key -->
<path class="w" style="stroke-width:1.8" d="M700,500 C700,440 760,385 850,372 C910,365 955,395 950,455 C945,510 900,550 862,585 L858,640 L845,665 L858,690 L845,720 L856,750 L842,780 L852,815 L840,850 L848,870 L815,908 L790,870 L798,850 L782,815 L795,780 L778,750 L792,720 L775,690 L790,660 L775,610 C735,590 700,550 700,500 Z"/>
<path class="l" d="M735,480 C735,430 800,400 860,405 C905,415 915,450 895,490 C870,530 810,550 770,535 C745,525 735,505 735,480 Z M815,650 L815,885"/>
<path class="w" d="M720,365 C760,380 800,375 830,355 L845,395 C810,420 760,425 740,415 Z"/>
<!-- tail bar -->
<path class="w" d="M48,648 L80,692 L255,592 L225,545 Z"/>
<path class="l" d="M112,612 L142,655"/>
<!-- body -->
<path class="w" d="M215,440 L345,330 L470,245 C500,200 560,180 620,210 C670,240 700,320 690,385 C685,415 670,430 655,440 L500,505 L300,642 Z"/>
<path class="l" d="M350,330 C400,350 460,420 490,475 L492,508 M390,300 C440,320 500,390 520,450 M470,245 C530,260 600,330 640,440 M500,215 C560,230 640,310 665,420"/>
<path class="l" d="M480,355 L570,300 M505,395 L600,335"/>
<path class="l" d="M380,538 L465,502 L470,530 L385,567 Z"/>
<!-- front face -->
<ellipse class="w" cx="262" cy="540" rx="68" ry="112" transform="rotate(-28 262 540)" style="stroke-width:1.8"/>
<ellipse class="l" cx="298" cy="545" rx="22" ry="68" transform="rotate(-28 298 545)"/>
<path class="w" d="M150,610 L225,548 L255,592 L210,625 Z" style="stroke:none"/>
<path class="l" d="M225,548 L182,572 M255,592 L225,612"/>
</g>

<!-- 40_coil.svg -->
<g id="pcoil" transform="translate(720,640) scale(0.13)">
<g transform="translate(0,615.4)">
<!-- right bracket -->
<path class="w" d="M685,138 C700,122 720,116 760,116 C820,120 880,150 915,195 C940,235 950,290 935,335 L910,382 L845,352 L845,320 L690,332 Z"/>
<path class="l" d="M690,332 C720,322 750,318 785,318"/>
<path class="l" d="M830,205 C850,190 878,200 884,240 C888,280 870,305 835,300 M830,205 L832,250 M775,150 L777,290 M805,262 L806,382"/>
<circle class="w" cx="726" cy="218" r="36"/>
<path class="l" d="M700,200 L745,240 M705,225 L735,250 M715,190 L755,222" style="stroke-width:2"/>
</g>
<!-- left ear -->
<path class="w" d="M110,600 C80,590 55,575 45,550 C30,500 30,450 50,420 C70,400 95,405 105,430 L125,470 Z"/>
<path class="l" d="M60,470 C62,445 85,440 95,460 C100,480 95,500 85,510 M20,520 L80,505"/>
<g transform="translate(0,615.4)">
<!-- lower body -->
<path class="w" d="M118,400 L118,730 C125,790 250,838 390,840 C530,838 660,790 670,735 L670,400 Z"/>
<!-- upper body -->
<path class="w" d="M128,-60 L128,200 L680,200 L680,-60" />
<!-- band -->
<path class="w" d="M97,160 C97,135 110,118 126,114 L126,190 C200,250 300,280 410,290 L510,285 C600,262 650,235 690,200 L690,400 C620,455 520,488 390,490 C250,485 150,440 97,380 Z"/>
<path class="w" d="M130,190 C200,250 300,280 410,290 L510,285 C600,262 650,235 678,205 L678,100 L130,100Z" style="stroke:none"/>
<path class="l" d="M97,172 C180,245 300,280 410,290 M510,285 C600,262 650,235 690,200"/>
</g>
<!-- cap rim -->
<path class="w" d="M110,478 C112,420 200,370 300,358 L520,362 C620,380 705,430 708,492 C708,560 640,640 400,642 C180,640 110,560 110,478 Z"/>
<path class="l" d="M124,520 C170,575 280,605 400,606 M440,605 C560,598 650,570 692,528"/>
<!-- left terminal plate -->
<path class="w" d="M165,425 L182,382 L292,366 L266,466 L172,470 Z"/>
<path class="l" d="M190,440 L255,436 L272,390"/>
<!-- right terminal plate -->
<path class="w" d="M440,490 C455,470 475,458 492,450 L622,470 L642,512 L546,562 L500,545 Z"/>
<path class="l" d="M470,485 L520,470 M490,500 L560,530 L625,495 M500,545 C490,520 470,500 440,490"/>
<!-- tower base cone -->
<path class="w" d="M312,325 L270,470 C290,505 360,522 440,512 L440,490 L492,450 L540,420 L502,325 Z"/>
<path class="l" d="M312,330 C340,365 460,368 504,330 M318,348 C350,385 450,388 498,352"/>
<!-- tower -->
<path class="w" d="M320,322 L320,125 C320,70 495,70 495,125 L495,322 C460,352 360,352 320,322 Z"/>
<path class="t" d="M322,140 C350,175 400,180 420,180 M450,178 C470,175 485,165 493,150"/>
<ellipse class="l" cx="410" cy="120" rx="36" ry="16"/>
<!-- left stud -->
<path class="w" d="M205,410 L205,310 C205,282 260,282 260,310 L260,405 L240,430 Z"/>
<path class="t" d="M207,325 H258 M207,345 H258 M207,365 H258 M207,385 H258 M210,405 H255"/>
<!-- right stud -->
<path class="w" d="M540,505 L540,405 C540,378 600,378 600,405 L600,500 C585,515 555,515 540,505 Z"/>
<path class="t" d="M542,420 H598 M542,440 H598 M542,460 H598 M542,480 H598"/>
</g>

<!-- 41_coil_hw_left.svg -->
<g id="p8910" transform="translate(655,690) scale(0.08)">
<!-- washer 10 -->
<ellipse class="w" cx="700" cy="245" rx="82" ry="102" transform="rotate(-12 700 245)" style="stroke-width:2"/>
<ellipse class="l" cx="680" cy="250" rx="62" ry="88" transform="rotate(-12 680 250)"/>
<ellipse class="l" cx="680" cy="252" rx="28" ry="42" transform="rotate(-12 680 252)" style="stroke-width:2"/>
<!-- lock washer 9 -->
<path class="w" style="stroke-width:2" d="M555,290 C545,230 500,195 455,205 C405,220 385,270 392,320 C400,375 440,410 490,400 C530,392 552,370 558,330 L500,338 C495,360 480,368 465,365 C440,355 430,325 435,295 C442,265 465,255 485,262 C495,270 500,282 500,296 Z"/>
<path class="l" d="M500,235 C520,250 535,270 540,292 M520,345 C518,370 505,385 490,395"/>
<!-- nut 8 -->
<path class="w" style="stroke-width:2" d="M200,268 C240,262 280,280 300,320 C318,365 310,420 285,450 C255,475 200,480 160,465 C115,440 95,390 105,340 C115,300 150,275 200,268 Z"/>
<ellipse class="l" cx="165" cy="375" rx="58" ry="78" transform="rotate(-10 165 375)"/>
<ellipse class="l" cx="162" cy="378" rx="26" ry="36" transform="rotate(-10 162 378)" style="stroke-width:2"/>
<path class="l" d="M215,305 L240,320 L232,420 L215,440 M240,320 L285,310 M232,420 L290,440"/>
</g>
<g id="coil_dash" class="l" style="stroke-linecap:butt">
<path d="M730.2,706.5 L721.8,709.8 L720.3,749.4 M719.6,754.9 L718.8,786.8 M718.8,792.3 L718.1,826.4 M718.1,830.8 L717.4,851.7 L704.9,857.2 M701.6,858.3 L687.3,863.8"/>
<path d="M755.8,833 V851.7"/>
<path d="M749.9,652.4 V671.2"/>
<path d="M794.1,655 V666 M794.1,669.3 V684.2"/>
<path d="M824.8,777 V806 M824.8,815 V841 M824.8,848 V878.4 L805.2,885.6"/>
</g>

<!-- 42_coil_hw_top.svg -->
<defs>
<pattern id="stip" width="3.6" height="3.6" patternUnits="userSpaceOnUse" patternTransform="rotate(25)">
<circle cx="0.9" cy="0.9" r="0.55" fill="#222"/><circle cx="2.7" cy="2.6" r="0.5" fill="#222"/>
</pattern>
</defs>
<g id="p4b" transform="translate(710,550) scale(0.11)">
<g transform="scale(9.09)"></g>
<!-- tube -->
<path class="w" d="M235,235 C200,245 165,250 130,252 L150,372 C190,360 230,350 270,348 Z"/>
<!-- dome -->
<path class="w" d="M235,235 C260,200 285,150 320,115 C350,88 400,82 440,102 C462,120 466,150 466,180 L470,345 C440,370 300,370 268,345 Z"/>
<!-- bottom ring -->
<path class="w" d="M268,345 C262,370 270,395 300,405 C350,418 420,415 460,395 C480,380 482,360 470,340 C440,370 300,370 268,345 Z" style="stroke-width:2"/>
<path class="t" d="M300,380 L302,402 M340,388 L340,410 M380,390 L380,412 M420,385 L422,408 M450,375 L455,395"/>
<!-- end ring -->
<ellipse class="w" cx="112" cy="318" rx="52" ry="66" transform="rotate(-12 112 318)" style="stroke-width:2.2"/>
<ellipse class="l" cx="108" cy="320" rx="28" ry="40" transform="rotate(-12 108 320)"/>
</g>
<g transform="translate(710,550)">
<path fill="url(#stip)" stroke="none" d="M25.8,25.8 C28.6,22 31.3,16.5 35.2,12.6 C38.5,9.7 44,9 48.4,11.2 C50.8,13.2 51.3,16.5 51.3,19.8 L51.7,38 C48.4,40.7 33,40.7 29.5,38 L29.7,38.3 C25.3,38.5 20.9,39.6 16.5,40.9 L14.3,27.7 C18,27.5 22,27 25.8,25.8Z"/>
<ellipse fill="url(#stip)" stroke="none" cx="12.3" cy="35" rx="5" ry="6.5"/>
</g>
<g id="p4a3a2a" transform="translate(710,550) scale(0.11)">
<!-- nut 4A -->
<path class="w" style="stroke-width:2" d="M302,495 C302,460 448,460 448,495 L446,545 C440,590 310,590 304,545 Z"/>
<ellipse class="l" cx="375" cy="494" rx="72" ry="27"/>
<ellipse class="l" cx="375" cy="492" rx="36" ry="13" style="stroke-width:2"/>
<path class="l" d="M335,520 L338,572 M415,520 L412,572 M335,545 C360,535 395,535 415,545"/>
<!-- lock washer 3A -->
<path class="w" style="stroke-width:2" d="M298,665 C300,630 360,618 400,625 C440,632 455,655 450,680 C445,705 420,715 395,715 L392,680 C405,678 412,670 405,660 C395,650 360,648 345,658 C335,668 345,680 358,682 L360,712 C320,710 296,695 298,665 Z"/>
<path class="l" d="M320,640 C340,632 360,630 380,632 M420,690 L440,680"/>
<!-- washer 2A -->
<ellipse class="w" cx="370" cy="820" rx="76" ry="42" style="stroke-width:2"/>
<ellipse class="l" cx="370" cy="808" rx="70" ry="32"/>
<ellipse class="l" cx="372" cy="806" rx="34" ry="13" style="stroke-width:2"/>
<!-- nut 4 -->
<path class="w" style="stroke-width:2" d="M692,568 C692,528 845,528 845,568 L842,605 C836,650 702,650 696,605 Z"/>
<ellipse class="l" cx="768" cy="566" rx="74" ry="28"/>
<ellipse class="l" cx="770" cy="563" rx="36" ry="13" style="stroke-width:2"/>
<path class="l" d="M728,592 L730,638 M812,592 L808,638"/>
<!-- lock washer 3 -->
<path class="w" style="stroke-width:2" d="M690,738 C692,703 750,692 790,698 C830,705 845,728 840,752 C835,776 812,786 788,786 L785,752 C798,750 804,742 798,733 C788,723 752,722 738,732 C728,742 738,752 750,754 L752,784 C712,782 688,768 690,738 Z"/>
<path class="l" d="M712,712 C732,705 752,703 772,705"/>
<!-- washer 2 -->
<ellipse class="w" cx="765" cy="878" rx="76" ry="44" style="stroke-width:2"/>
<ellipse class="l" cx="765" cy="866" rx="70" ry="33"/>
<ellipse class="l" cx="767" cy="864" rx="34" ry="13" style="stroke-width:2"/>
</g>

<!-- 43_conn5.svg -->
<g id="p5a" transform="translate(640,820) scale(0.09)">
<!-- lower block -->
<path class="w" d="M145,580 L150,700 L180,822 L310,862 L460,772 L462,600 Z"/>
<path class="l" d="M305,792 L305,860 M190,640 C215,625 240,640 238,680 L245,730 L300,790 M175,705 L215,760 M180,720 L180,810"/>
<!-- upper block -->
<path class="w" d="M140,420 L150,280 C150,230 170,180 205,145 C240,125 340,118 385,135 C425,155 450,190 456,235 L462,380 L262,460 Z"/>
<path class="l" d="M180,192 C215,165 265,180 292,215 C305,250 290,290 262,302 L240,302 L236,372 C220,392 185,388 170,360 L172,290 C172,260 180,245 190,240 M265,310 L262,440 M240,200 C235,230 220,250 205,262 M330,190 L395,175"/>
<!-- band -->
<path class="w" d="M130,425 L130,555 L272,622 L352,592 L470,545 L466,385 L355,430 L260,470 Z"/>
<path class="l" d="M262,470 L268,620 M300,482 L296,602 M355,430 L352,592"/>
<!-- tab -->
<path class="w" d="M375,430 L500,482 L495,642 L365,588 Z"/>
<ellipse class="l" cx="428" cy="540" rx="20" ry="24"/>
<path class="l" d="M365,555 L410,548"/>
</g>
<g id="p5" transform="translate(715,865) scale(0.1)">
<!-- tab -->
<path class="w" d="M465,255 L578,305 L578,432 L465,385 Z"/>
<ellipse class="l" cx="516" cy="345" rx="20" ry="24"/>
<path class="l" d="M495,350 L530,345"/>
<!-- lower block -->
<path class="w" d="M590,480 L600,600 L625,706 L735,756 L870,692 L880,470 Z"/>
<path class="l" d="M620,556 C640,540 668,545 672,580 L680,622 L700,652 L742,692 M700,548 L700,650 M625,620 L652,662 M735,700 L735,755"/>
<!-- upper block -->
<path class="w" d="M585,350 L598,210 C602,160 625,118 680,92 C730,75 800,82 835,105 C865,130 875,160 878,200 L888,300 L705,390 Z"/>
<path class="l" d="M625,132 C660,110 715,125 735,165 C742,205 725,240 700,252 L682,255 L680,302 C665,325 632,320 620,295 L622,225 C625,200 635,190 642,188 M705,252 L702,390 M690,140 C685,170 670,190 655,200 M760,160 L820,142"/>
<!-- band -->
<path class="w" d="M580,350 L585,482 L710,542 L890,470 L890,300 L705,386 Z"/>
<path class="l" d="M697,400 L697,535 M725,395 L725,535"/>
</g>
<g id="p6" transform="translate(715,865) scale(0.1)">
<!-- thread -->
<path class="w" d="M215,720 L355,655 C378,650 392,680 385,712 L250,782 Z"/>
<path class="t" d="M240,710 L262,772 M262,700 L284,762 M284,690 L306,752 M306,680 L328,742 M328,670 L350,730 M350,660 L372,718"/>
<!-- head -->
<path class="w" style="stroke-width:2" d="M85,755 C85,715 130,685 175,692 C215,700 232,740 225,790 C215,835 170,860 135,850 C105,835 85,800 85,755 Z"/>
<path class="l" d="M100,790 L185,725 M115,810 L200,745 M120,720 C105,740 100,760 100,790"/>
</g>
<g id="p7" transform="translate(715,865) scale(0.1)">
<ellipse class="w" cx="478" cy="645" rx="70" ry="84" transform="rotate(-12 478 645)" style="stroke-width:2"/>
<ellipse class="l" cx="470" cy="648" rx="52" ry="68" transform="rotate(-12 470 648)"/>
<ellipse class="l" cx="468" cy="650" rx="24" ry="34" transform="rotate(-12 468 650)" style="stroke-width:2"/>
</g>

</svg>
</body></html>
